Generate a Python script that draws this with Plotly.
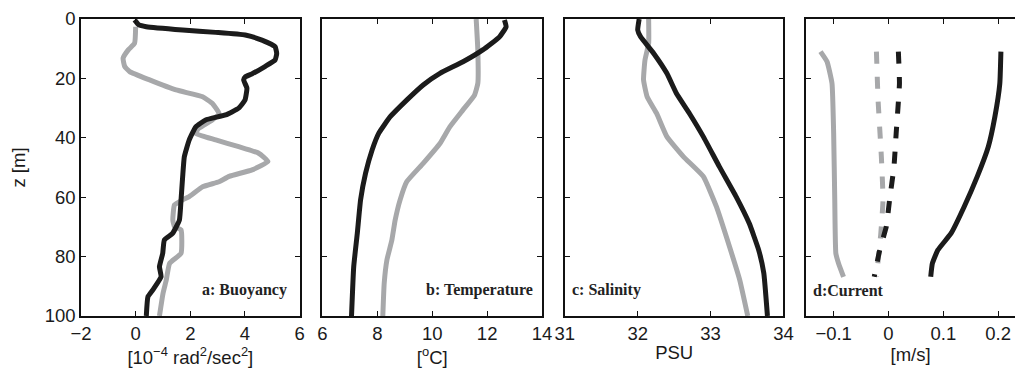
import plotly.graph_objects as go

# ---- profile data (depth in m, positive downward) ----
# a: buoyancy frequency squared [1e-4 rad^2/s^2]
buoy_dark_z = [0.3, 2, 2.6, 3.7, 4.5, 5.4, 7.1, 9.3, 11.6, 13.8, 16, 18.5, 19.5, 20.5, 23.3, 27.3, 30, 32.3, 34, 36.3,
               40.7, 46.4, 53, 60.9, 67.7, 72.2, 74.4, 78.9, 83.4, 86.8, 91.2, 93.5, 100]
buoy_dark_x = [-0.04, 0.12, 0.39, 1.72, 2.93, 4.01, 4.62, 5.10, 5.16, 5.10, 4.73, 4.25, 4.01, 3.95, 4.07, 4.0, 3.77, 3.29,
               2.56, 2.2, 1.96, 1.78, 1.72, 1.66, 1.60, 1.35, 1.05, 0.99, 0.87, 0.93, 0.63, 0.45, 0.39]
buoy_light_z = [2.6, 8.2, 10.4, 13.2, 16, 17.7, 20.5, 23.9, 26.2, 28.4, 31.8, 34, 36.8, 38.5, 40.7, 43, 45.2, 48, 50.8,
                53, 54.8, 56.5, 59.8, 60.9, 62.6, 67.7, 69.9, 71, 78.9, 82.3, 87.9, 92.4, 100]
buoy_light_x = [0.0, -0.04, -0.27, -0.46, -0.4, -0.22, 0.51, 1.48, 2.45, 2.8, 3.05, 2.8, 2.31, 2.19, 2.93, 3.77, 4.5,
                4.84, 4.26, 3.42, 3.05, 2.45, 1.96, 1.72, 1.42, 1.36, 1.42, 1.66, 1.66, 1.24, 1.12, 1.0, 0.87]

# b: temperature [degC]
temp_dark_z = [0.3, 2.6, 6, 10.4, 14.4, 18.3, 22.2, 27.3, 32.9, 38.5, 44.1, 52, 60.9, 72.2, 83.4, 100]
temp_dark_x = [12.63, 12.69, 12.45, 11.84, 11.12, 10.28, 9.67, 9.07, 8.47, 8.05, 7.81, 7.57, 7.39, 7.27, 7.14, 7.06]
temp_light_z = [0, 10.4, 21.7, 25.6, 30.6, 36.3, 41.9, 48.6, 54.8, 60.9, 67.7, 74.4, 81.1, 89, 100]
temp_light_x = [11.6, 11.66, 11.66, 11.54, 11.12, 10.64, 10.28, 9.67, 9.07, 8.83, 8.65, 8.53, 8.35, 8.25, 8.2]

# c: salinity [PSU]
sal_dark_z = [0, 3.7, 6, 11.6, 18.3, 25, 31.8, 39.6, 49.7, 59.8, 68.8, 77.8, 85.6, 100]
sal_dark_x = [32.02, 32.0, 32.04, 32.22, 32.4, 32.53, 32.71, 32.9, 33.12, 33.35, 33.53, 33.66, 33.73, 33.78]
sal_light_z = [0, 8.2, 13.8, 20.5, 26.2, 31.8, 39.6, 46.4, 53, 63.2, 76.7, 87.9, 100]
sal_light_x = [32.15, 32.15, 32.1, 32.08, 32.13, 32.26, 32.4, 32.63, 32.9, 33.08, 33.26, 33.4, 33.51]

# d: current components [m/s]
cur_light_solid_z = [11, 14.4, 21.7, 38.5, 60.9, 78.9, 82.3, 86.8]
cur_light_solid_x = [-0.124, -0.112, -0.103, -0.1, -0.098, -0.096, -0.091, -0.082]
cur_light_dash_z = [11, 27.3, 46.4, 60.9, 72.2, 86.8]
cur_light_dash_x = [-0.022, -0.019, -0.013, -0.01, -0.014, -0.022]
cur_dark_dash_z = [11, 21.7, 38.5, 49.7, 60.9, 69.9, 77.8, 86.8]
cur_dark_dash_x = [0.018, 0.02, 0.014, 0.01, 0.002, -0.004, -0.016, -0.026]
cur_dark_solid_z = [11, 21.7, 32.9, 43, 53, 63.2, 72.2, 77.8, 82.3, 86.8]
cur_dark_solid_x = [0.205, 0.203, 0.194, 0.182, 0.162, 0.138, 0.114, 0.09, 0.08, 0.077]

panel_labels = ["a: Buoyancy", "b: Temperature", "c: Salinity", "d:Current"]
x_titles = ["[10<sup>\u22124</sup> rad<sup>2</sup>/sec<sup>2</sup>]", "[<sup>o</sup>C]", "PSU", "[m/s]"]
x_ranges = [[-2, 6], [6, 14], [31, 34], [-0.15, 0.2307]]
x_ticks = [[-2, 0, 2, 4, 6], [6, 8, 10, 12, 14], [31, 32, 33, 34], [-0.1, 0, 0.1, 0.2]]
x_ticktext = [["\u22122", "0", "2", "4", "6"], ["6", "8", "10", "12", "14"], ["31", "32", "33", "34"],
              ["\u22120.1", "0", "0.1", "0.2"]]
z_ticks = [0, 20, 40, 60, 80, 100]

DARK = "#1b1b1b"
LIGHT = "#a7a8aa"
LW = 5

W, H = 1025, 377
ML, MR, MT, MB = 81, 0, 19, 61
PW = W - ML - MR
px_spans = [(81, 302), (325, 547), (570, 791), (814, 1025)]
domains = [[(a - ML) / PW, (b - ML) / PW] for a, b in px_spans]

fig = go.Figure()


def add(xs, zs, color, panel, dash=None):
    suffix = "" if panel == 0 else str(panel + 1)
    fig.add_trace(go.Scatter(
        x=xs, y=zs, mode="lines",
        line=dict(color=color, width=LW, dash=dash, shape="spline", smoothing=0.4),
        xaxis="x" + suffix, yaxis="y" + suffix, showlegend=False, hoverinfo="skip"))


add(buoy_light_x, buoy_light_z, LIGHT, 0)
add(buoy_dark_x, buoy_dark_z, DARK, 0)
add(temp_light_x, temp_light_z, LIGHT, 1)
add(temp_dark_x, temp_dark_z, DARK, 1)
add(sal_light_x, sal_light_z, LIGHT, 2)
add(sal_dark_x, sal_dark_z, DARK, 2)
add(cur_light_solid_x, cur_light_solid_z, LIGHT, 3)
add(cur_light_dash_x, cur_light_dash_z, LIGHT, 3, dash="12px,13px")
add(cur_dark_dash_x, cur_dark_dash_z, DARK, 3, dash="12px,13px")
add(cur_dark_solid_x, cur_dark_solid_z, DARK, 3)

tick_font = dict(family="Liberation Sans, Arial, sans-serif", size=18.5, color="#1a1a1a")
layout = dict(
    width=W, height=H,
    margin=dict(l=ML, r=MR, t=MT, b=MB, pad=0),
    paper_bgcolor="white", plot_bgcolor="white",
    font=tick_font,
)

annotations = []
for i in range(4):
    suffix = "" if i == 0 else str(i + 1)
    layout["xaxis" + suffix] = dict(
        domain=domains[i], range=x_ranges[i], anchor="y" + suffix,
        tickmode="array", tickvals=x_ticks[i], ticktext=x_ticktext[i],
        ticks="inside", ticklen=5, tickwidth=1, tickcolor="#111",
        showline=True, linecolor="#111", linewidth=1.5, mirror="allticks",
        showgrid=False, zeroline=False, tickfont=tick_font,
        title=dict(text=x_titles[i], font=tick_font, standoff=3),
    )
    yaxis = dict(
        domain=[0, 1], range=[100, 0], anchor="x" + suffix,
        tickmode="array", tickvals=z_ticks,
        ticks="inside", ticklen=5, tickwidth=1, tickcolor="#111",
        showline=True, linecolor="#111", linewidth=1.5,
        mirror="allticks" if i < 3 else False,
        showgrid=False, zeroline=False, tickfont=tick_font,
        showticklabels=(i == 0),
    )
    if i == 0:
        yaxis["title"] = dict(text="z [m]", font=tick_font, standoff=14)
    layout["yaxis" + suffix] = yaxis
    right_side = i in (0, 1)
    annotations.append(dict(
        text="<b>" + panel_labels[i] + "</b>",
        xref="x" + suffix + " domain", yref="y" + suffix + " domain",
        x=[0.950, 0.968, 0.0226, 0.0237][i], y=0.0875,
        xanchor="right" if right_side else "left", yanchor="middle",
        showarrow=False,
        font=dict(family="Liberation Serif, Times New Roman, serif", size=16, color="#222"),
    ))

layout["annotations"] = annotations
fig.update_layout(**layout)
fig.write_html("out.html")
